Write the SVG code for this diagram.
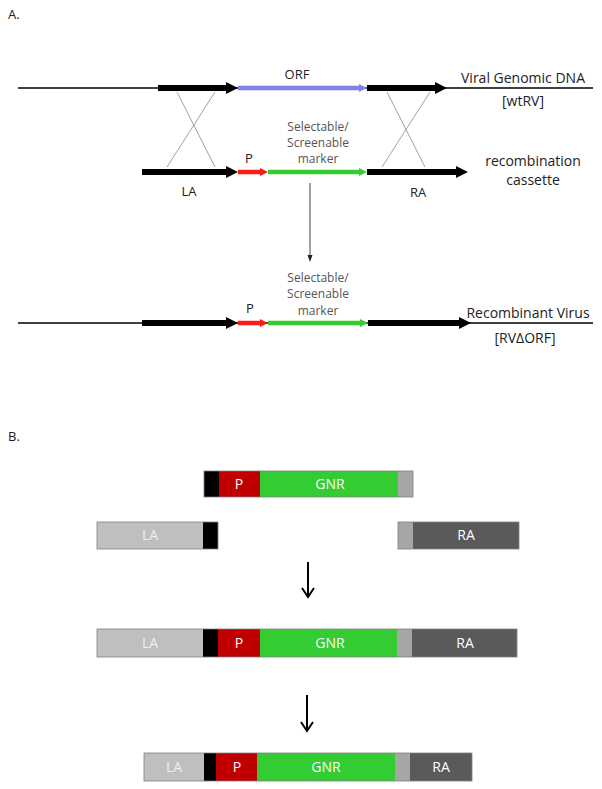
<svg xmlns="http://www.w3.org/2000/svg" width="602" height="789" viewBox="0 0 602 789">
<style>
  text { font-family: "Open Sans", "Liberation Sans", Arial, sans-serif; }
  .lbl { font-size: 14px; fill: #222; }
  .lbl12 { font-size: 13px; fill: #222; }
  .mk { font-size: 12px; fill: #555; text-anchor: middle; }
  .mid { text-anchor: middle; }
  .thin { stroke: #000; stroke-width: 1.6; fill: none; }
  .cross { stroke: #888; stroke-width: 0.8; fill: none; }
  .blk { stroke: #000; stroke-width: 6; }
  .red { stroke: #ff1a1a; stroke-width: 4.5; }
  .grn { stroke: #33cc33; stroke-width: 4.5; }
  .blu { stroke: #8080ee; stroke-width: 4.5; }
  .btxt { font-size: 14px; fill: #fff; text-anchor: middle; }
  .ltxt { font-size: 14px; fill: #eeeeee; text-anchor: middle; }
  .c-black { fill: #000; }
  .c-red { fill: #c00000; }
  .c-green { fill: #33cc33; }
  .c-lg { fill: #a6a6a6; }
  .c-la { fill: #bfbfbf; }
  .c-ra { fill: #5a5a5a; }
  .frame { fill: none; stroke: #808080; stroke-width: 0.8; }
  .bigarrow { stroke: #000; stroke-width: 2; fill: none; }
</style>

<text class="lbl12" x="8" y="19">A.</text>

<!-- Row 1: viral genomic DNA -->
<g id="row1">
  <line class="thin" x1="18" y1="88" x2="593" y2="88"/>
  <line class="blk" x1="158" y1="88" x2="230" y2="88"/>
  <polygon points="226,82 238,88 226,94" fill="#000"/>
  <line class="blu" x1="238" y1="88" x2="361" y2="88"/>
  <polygon points="359,84 367,88 359,92" fill="#8080ee"/>
  <line class="blk" x1="367" y1="88" x2="438" y2="88"/>
  <polygon points="435,82 447,88 435,94" fill="#000"/>
  <text class="lbl12 mid" x="297" y="79">ORF</text>
  <text class="lbl mid" x="523" y="83">Viral Genomic DNA</text>
  <text class="lbl mid" x="523" y="106">[wtRV]</text>
</g>

<!-- Row 2: recombination cassette -->
<g id="row2">
  <line class="blk" x1="142" y1="172" x2="230" y2="172"/>
  <polygon points="226,166 238,172 226,178" fill="#000"/>
  <line class="red" x1="238" y1="172" x2="262" y2="172"/>
  <polygon points="260,168 268,172 260,176" fill="#ff1a1a"/>
  <line class="grn" x1="268" y1="172" x2="361" y2="172"/>
  <polygon points="359,168 367,172 359,176" fill="#33cc33"/>
  <line class="blk" x1="367" y1="172" x2="458" y2="172"/>
  <polygon points="456,166 468,172 456,178" fill="#000"/>
  <text class="lbl12 mid" x="249" y="163">P</text>
  <text class="mk" x="318" y="131">Selectable/</text>
  <text class="mk" x="318" y="147">Screenable</text>
  <text class="mk" x="318" y="163">marker</text>
  <text class="lbl12 mid" x="189" y="196">LA</text>
  <text class="lbl12 mid" x="418" y="197">RA</text>
  <text class="lbl mid" x="533" y="166">recombination</text>
  <text class="lbl mid" x="533" y="185">cassette</text>
</g>

<!-- Row 3: recombinant virus -->
<g id="row3">
  <line class="thin" x1="18" y1="323" x2="593" y2="323"/>
  <line class="blk" x1="142" y1="323" x2="230" y2="323"/>
  <polygon points="226,317 238,323 226,329" fill="#000"/>
  <line class="red" x1="238" y1="323" x2="262" y2="323"/>
  <polygon points="260,319 268,323 260,327" fill="#ff1a1a"/>
  <line class="grn" x1="268" y1="323" x2="362" y2="323"/>
  <polygon points="360,319 368,323 360,327" fill="#33cc33"/>
  <line class="blk" x1="368" y1="323" x2="461" y2="323"/>
  <polygon points="459,317 471,323 459,329" fill="#000"/>
  <text class="lbl12 mid" x="250" y="313">P</text>
  <text class="mk" x="318" y="282">Selectable/</text>
  <text class="mk" x="318" y="298">Screenable</text>
  <text class="mk" x="318" y="315">marker</text>
  <text class="lbl mid" x="528" y="318">Recombinant Virus</text>
  <text class="lbl mid" x="525" y="343">[RVΔORF]</text>
</g>

<!-- Connectors -->
<g id="connectors">
  <line class="cross" x1="177" y1="92" x2="215" y2="167"/>
  <line class="cross" x1="215" y1="92" x2="167" y2="167"/>
  <line class="cross" x1="387" y1="92" x2="425" y2="167"/>
  <line class="cross" x1="430" y1="92" x2="382" y2="167"/>
  <line x1="310" y1="183" x2="310" y2="256" stroke="#444" stroke-width="1"/>
  <polygon points="307.5,255 310,262 312.5,255" fill="#222"/>
  <line class="bigarrow" x1="308" y1="562" x2="308" y2="596"/>
  <polyline class="bigarrow" points="302,588 308,597 314,588"/>
  <line class="bigarrow" x1="307" y1="695" x2="307" y2="730"/>
  <polyline class="bigarrow" points="301,722 307,731 313,722"/>
</g>

<text class="lbl12" x="8" y="441">B.</text>

<!-- Part B bars -->
<g id="cassette">
  <rect class="c-black" x="204" y="471" width="15" height="26"/>
  <rect class="c-red" x="219" y="471" width="41" height="26"/>
  <rect class="c-green" x="260" y="471" width="138" height="26"/>
  <rect class="c-lg" x="398" y="471" width="15" height="26"/>
  <rect class="frame" x="204" y="471" width="209" height="26"/>
  <text class="btxt" x="239" y="489">P</text>
  <text class="btxt" x="330" y="489">GNR</text>
</g>

<g id="la-arm">
  <rect class="c-la" x="97" y="522" width="106" height="27"/>
  <rect class="c-black" x="203" y="522" width="15" height="27"/>
  <rect class="frame" x="97" y="522" width="121" height="27"/>
  <text class="ltxt" x="150" y="540">LA</text>
</g>

<g id="ra-arm">
  <rect class="c-lg" x="398" y="522" width="15" height="27"/>
  <rect class="c-ra" x="413" y="522" width="106" height="27"/>
  <rect class="frame" x="398" y="522" width="121" height="27"/>
  <text class="btxt" x="466" y="540">RA</text>
</g>

<g id="construct">
  <rect class="c-la" x="97" y="629" width="106" height="28"/>
  <rect class="c-black" x="203" y="629" width="15" height="28"/>
  <rect class="c-red" x="218" y="629" width="42" height="28"/>
  <rect class="c-green" x="260" y="629" width="137" height="28"/>
  <rect class="c-lg" x="397" y="629" width="15" height="28"/>
  <rect class="c-ra" x="412" y="629" width="105" height="28"/>
  <rect class="frame" x="97" y="629" width="420" height="28"/>
  <text class="ltxt" x="150" y="648">LA</text>
  <text class="btxt" x="239" y="648">P</text>
  <text class="btxt" x="330" y="648">GNR</text>
  <text class="btxt" x="465" y="648">RA</text>
</g>

<g id="final">
  <rect class="c-la" x="144" y="753" width="60" height="28"/>
  <rect class="c-black" x="204" y="753" width="12" height="28"/>
  <rect class="c-red" x="216" y="753" width="41" height="28"/>
  <rect class="c-green" x="257" y="753" width="138" height="28"/>
  <rect class="c-lg" x="395" y="753" width="15" height="28"/>
  <rect class="c-ra" x="410" y="753" width="62" height="28"/>
  <rect class="frame" x="144" y="753" width="328" height="28"/>
  <text class="ltxt" x="174" y="772">LA</text>
  <text class="btxt" x="237" y="772">P</text>
  <text class="btxt" x="326" y="772">GNR</text>
  <text class="btxt" x="441" y="772">RA</text>
</g>
</svg>
